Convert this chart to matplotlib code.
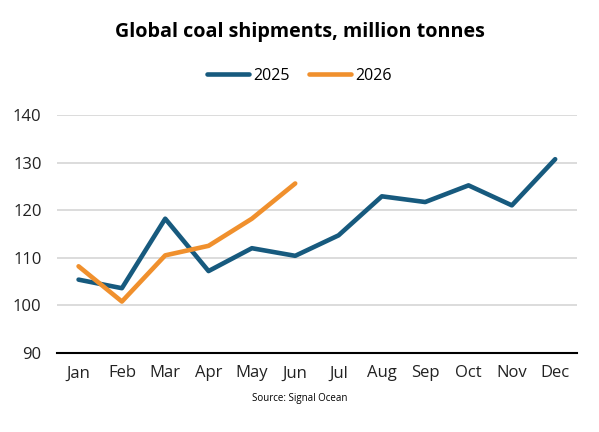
import matplotlib.pyplot as plt

months = ["Jan", "Feb", "Mar", "Apr", "May", "Jun", "Jul", "Aug", "Sep", "Oct", "Nov", "Dec"]
y2025 = [105.4, 103.6, 118.2, 107.2, 112.0, 110.4, 114.7, 122.9, 121.7, 125.2, 121.0, 130.7]
y2026 = [108.2, 100.8, 110.5, 112.5, 118.2, 125.6]
yticks = [90, 100, 110, 120, 130, 140]

plt.rcParams['font.family'] = ['Open Sans', 'DejaVu Sans']

fig = plt.figure(figsize=(5.99, 4.32), dpi=100)
ax = fig.add_axes([0.095, 0.183, 0.868, 0.551])

ax.plot(range(len(y2025)), y2025, color="#175a7e", lw=3.3, label="2025", solid_capstyle="round")
ax.plot(range(len(y2026)), y2026, color="#f0902d", lw=3.3, label="2026", solid_capstyle="round")

ax.set_xlim(-0.5, 11.5)
ax.set_ylim(90, 140)
ax.set_yticks(yticks)
ax.set_xticks(range(len(months)))
ax.set_xticklabels(months)
ax.tick_params(length=0, labelsize=12, colors="#222222")
ax.tick_params(axis="y", pad=11)
ax.tick_params(axis="x", pad=9)
ax.grid(axis="y", color="#d9d9d9", lw=1.3)
ax.set_axisbelow(True)
for s in ["top", "right", "left"]:
    ax.spines[s].set_visible(False)
ax.spines["bottom"].set_color("black")
ax.spines["bottom"].set_linewidth(1.5)
ax.spines["bottom"].set_zorder(3)

fig.text(0.5, 0.925, "Global coal shipments, million tonnes", ha="center", va="center",
         fontsize=14.2, fontweight="bold", color="black")
fig.legend(loc="center", bbox_to_anchor=(0.5, 0.825), ncol=2, frameon=False,
           fontsize=11.5, handlelength=2.6, columnspacing=1.2, handletextpad=0.3)
fig.text(0.5, 0.078, "Source: Signal Ocean", ha="center", va="center", fontsize=7)

fig.savefig("out.png", dpi=100)
